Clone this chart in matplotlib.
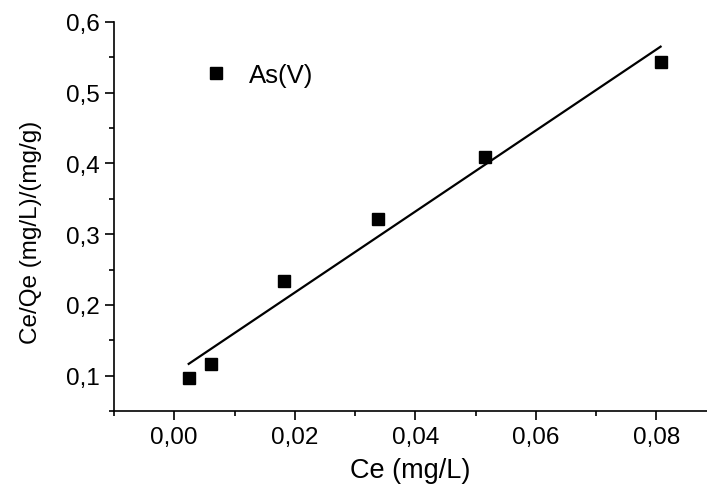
import numpy as np
import matplotlib
matplotlib.use('Agg')
import matplotlib.pyplot as plt
from matplotlib.ticker import MultipleLocator, FuncFormatter

plt.rcParams['font.family'] = ['Liberation Sans', 'DejaVu Sans']

# Langmuir linear plot data
ce = np.array([0.0024, 0.0061, 0.0182, 0.0338, 0.0515, 0.0807])
ce_qe = np.array([0.096, 0.1165, 0.234, 0.322, 0.409, 0.5435])
series_name = 'As(V)'
x_label = 'Ce (mg/L)'
y_label = 'Ce/Qe (mg/L)/(mg/g)'

# linear fit through the points
slope, intercept = np.polyfit(ce, ce_qe, 1)
x_fit = np.array([ce.min(), ce.max()])
y_fit = slope * x_fit + intercept

fig = plt.figure(figsize=(7.07, 4.89), dpi=100)
ax = fig.add_axes([0.1612, 0.1575, 0.8388, 0.7955])

ax.plot(ce, ce_qe, 's', color='black', markersize=8, label=series_name)
ax.plot(x_fit, y_fit, '-', color='black', linewidth=1.6)

ax.set_xlim(-0.01, 0.0884)
ax.set_ylim(0.05, 0.6)

ax.spines['top'].set_visible(False)
ax.spines['right'].set_visible(False)
for s in ['left', 'bottom']:
    ax.spines[s].set_linewidth(1.2)

ax.xaxis.set_major_locator(MultipleLocator(0.02))
ax.xaxis.set_minor_locator(MultipleLocator(0.01))
ax.yaxis.set_major_locator(MultipleLocator(0.1))
ax.yaxis.set_minor_locator(MultipleLocator(0.05))
ax.xaxis.set_major_formatter(FuncFormatter(lambda v, p: f'{v:.2f}'.replace('.', ',').replace('-0,00', '0,00')))
ax.yaxis.set_major_formatter(FuncFormatter(lambda v, p: f'{v:.1f}'.replace('.', ',')))

ax.tick_params(which='major', direction='out', length=6.5, width=1.2, labelsize=17.5, pad=4)
ax.tick_params(which='minor', direction='out', length=3.5, width=1.2)

ax.set_xlabel(x_label, fontsize=19.5)
ax.set_ylabel(y_label, fontsize=17.5)
ax.xaxis.set_label_coords(0.5, -0.118)
ax.yaxis.set_label_coords(-0.121, 0.463)

ax.legend(loc='center left', bbox_to_anchor=(0.152, 0.864), frameon=False,
          numpoints=1, handlelength=0.9, handletextpad=0.85, borderpad=0,
          borderaxespad=0, fontsize=18.5)

fig.savefig('out.png', dpi=100)
